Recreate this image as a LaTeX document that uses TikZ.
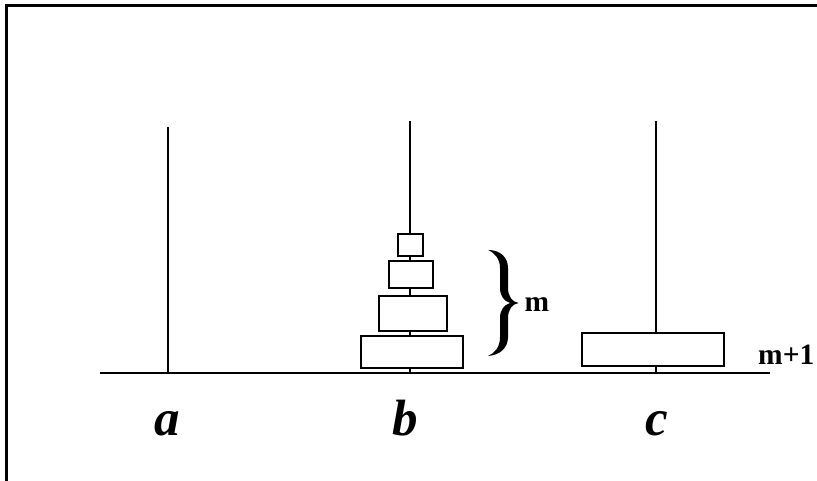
\documentclass[tikz,border=0pt]{standalone}
\usepackage{fontspec}
\setmainfont{Liberation Serif}
\begin{document}
\begin{tikzpicture}[x=1pt,y=-1pt,
  peg/.style={line width=2pt},
  disk/.style={draw,line width=2pt,fill=white,inner sep=0pt,rectangle},
  letter/.style={font=\fontsize{51}{51}\selectfont\bfseries\itshape,anchor=base,inner sep=0pt},
  lab/.style={font=\fontsize{29.5}{29.5}\selectfont\bfseries,anchor=base west,inner sep=0pt}]
\useasboundingbox (0,0) rectangle (817,481);
% frame
\draw[line width=2.8pt] (6.5,481) -- (6.5,5.5) -- (817,5.5);
% base line
\coordinate (bl) at (100,373);
\coordinate (br) at (770,373);
\draw[peg] (bl) -- (br);
% pegs
\coordinate (ta) at (168,127); \coordinate (ba) at (168,373);
\coordinate (tb) at (410,121); \coordinate (bb) at (410,373);
\coordinate (tc) at (656,121); \coordinate (bc) at (656,373);
\draw[peg] (ta) -- (ba);
\draw[peg] (tb) -- (bb);
\draw[peg] (tc) -- (bc);
% disks on b
\node[disk,minimum width=25pt,minimum height=22pt] (d1) at (410.3,245.3) {};
\node[disk,minimum width=44pt,minimum height=27.6pt] (d2) at (411.3,274.5) {};
\node[disk,minimum width=68pt,minimum height=35pt] (d3) at (413.3,313.3) {};
\node[disk,minimum width=102pt,minimum height=32.6pt] (d4) at (411.7,352) {};
% disk on c
\node[disk,minimum width=142pt,minimum height=32.4pt] (dc) at (653.3,349.5) {};
% brace
\fill (488,250) .. controls (500,250) and (508,257) .. (508,268)
  -- (508,288) .. controls (508,296) and (512,302) .. (518.5,303)
  .. controls (512,304) and (508,310) .. (508,318)
  -- (508,337) .. controls (508,348) and (500,355) .. (488,356)
  .. controls (495,353) and (500,347) .. (500,337)
  -- (500,318) .. controls (500,310) and (504,305) .. (510,303)
  .. controls (504,301) and (500,296) .. (500,288)
  -- (500,268) .. controls (500,259) and (495,253) .. (488,250) -- cycle;
\node[lab] (m) at (524.5,311) {m};
\node[lab] (m1) at (758,364.3) {m+1};
% peg labels
\node[letter] (la) at (167.5,435) {a};
\node[letter] (lb) at (405.5,435) {b};
\node[letter] (lc) at (656.7,435) {c};
\end{tikzpicture}
\end{document}
